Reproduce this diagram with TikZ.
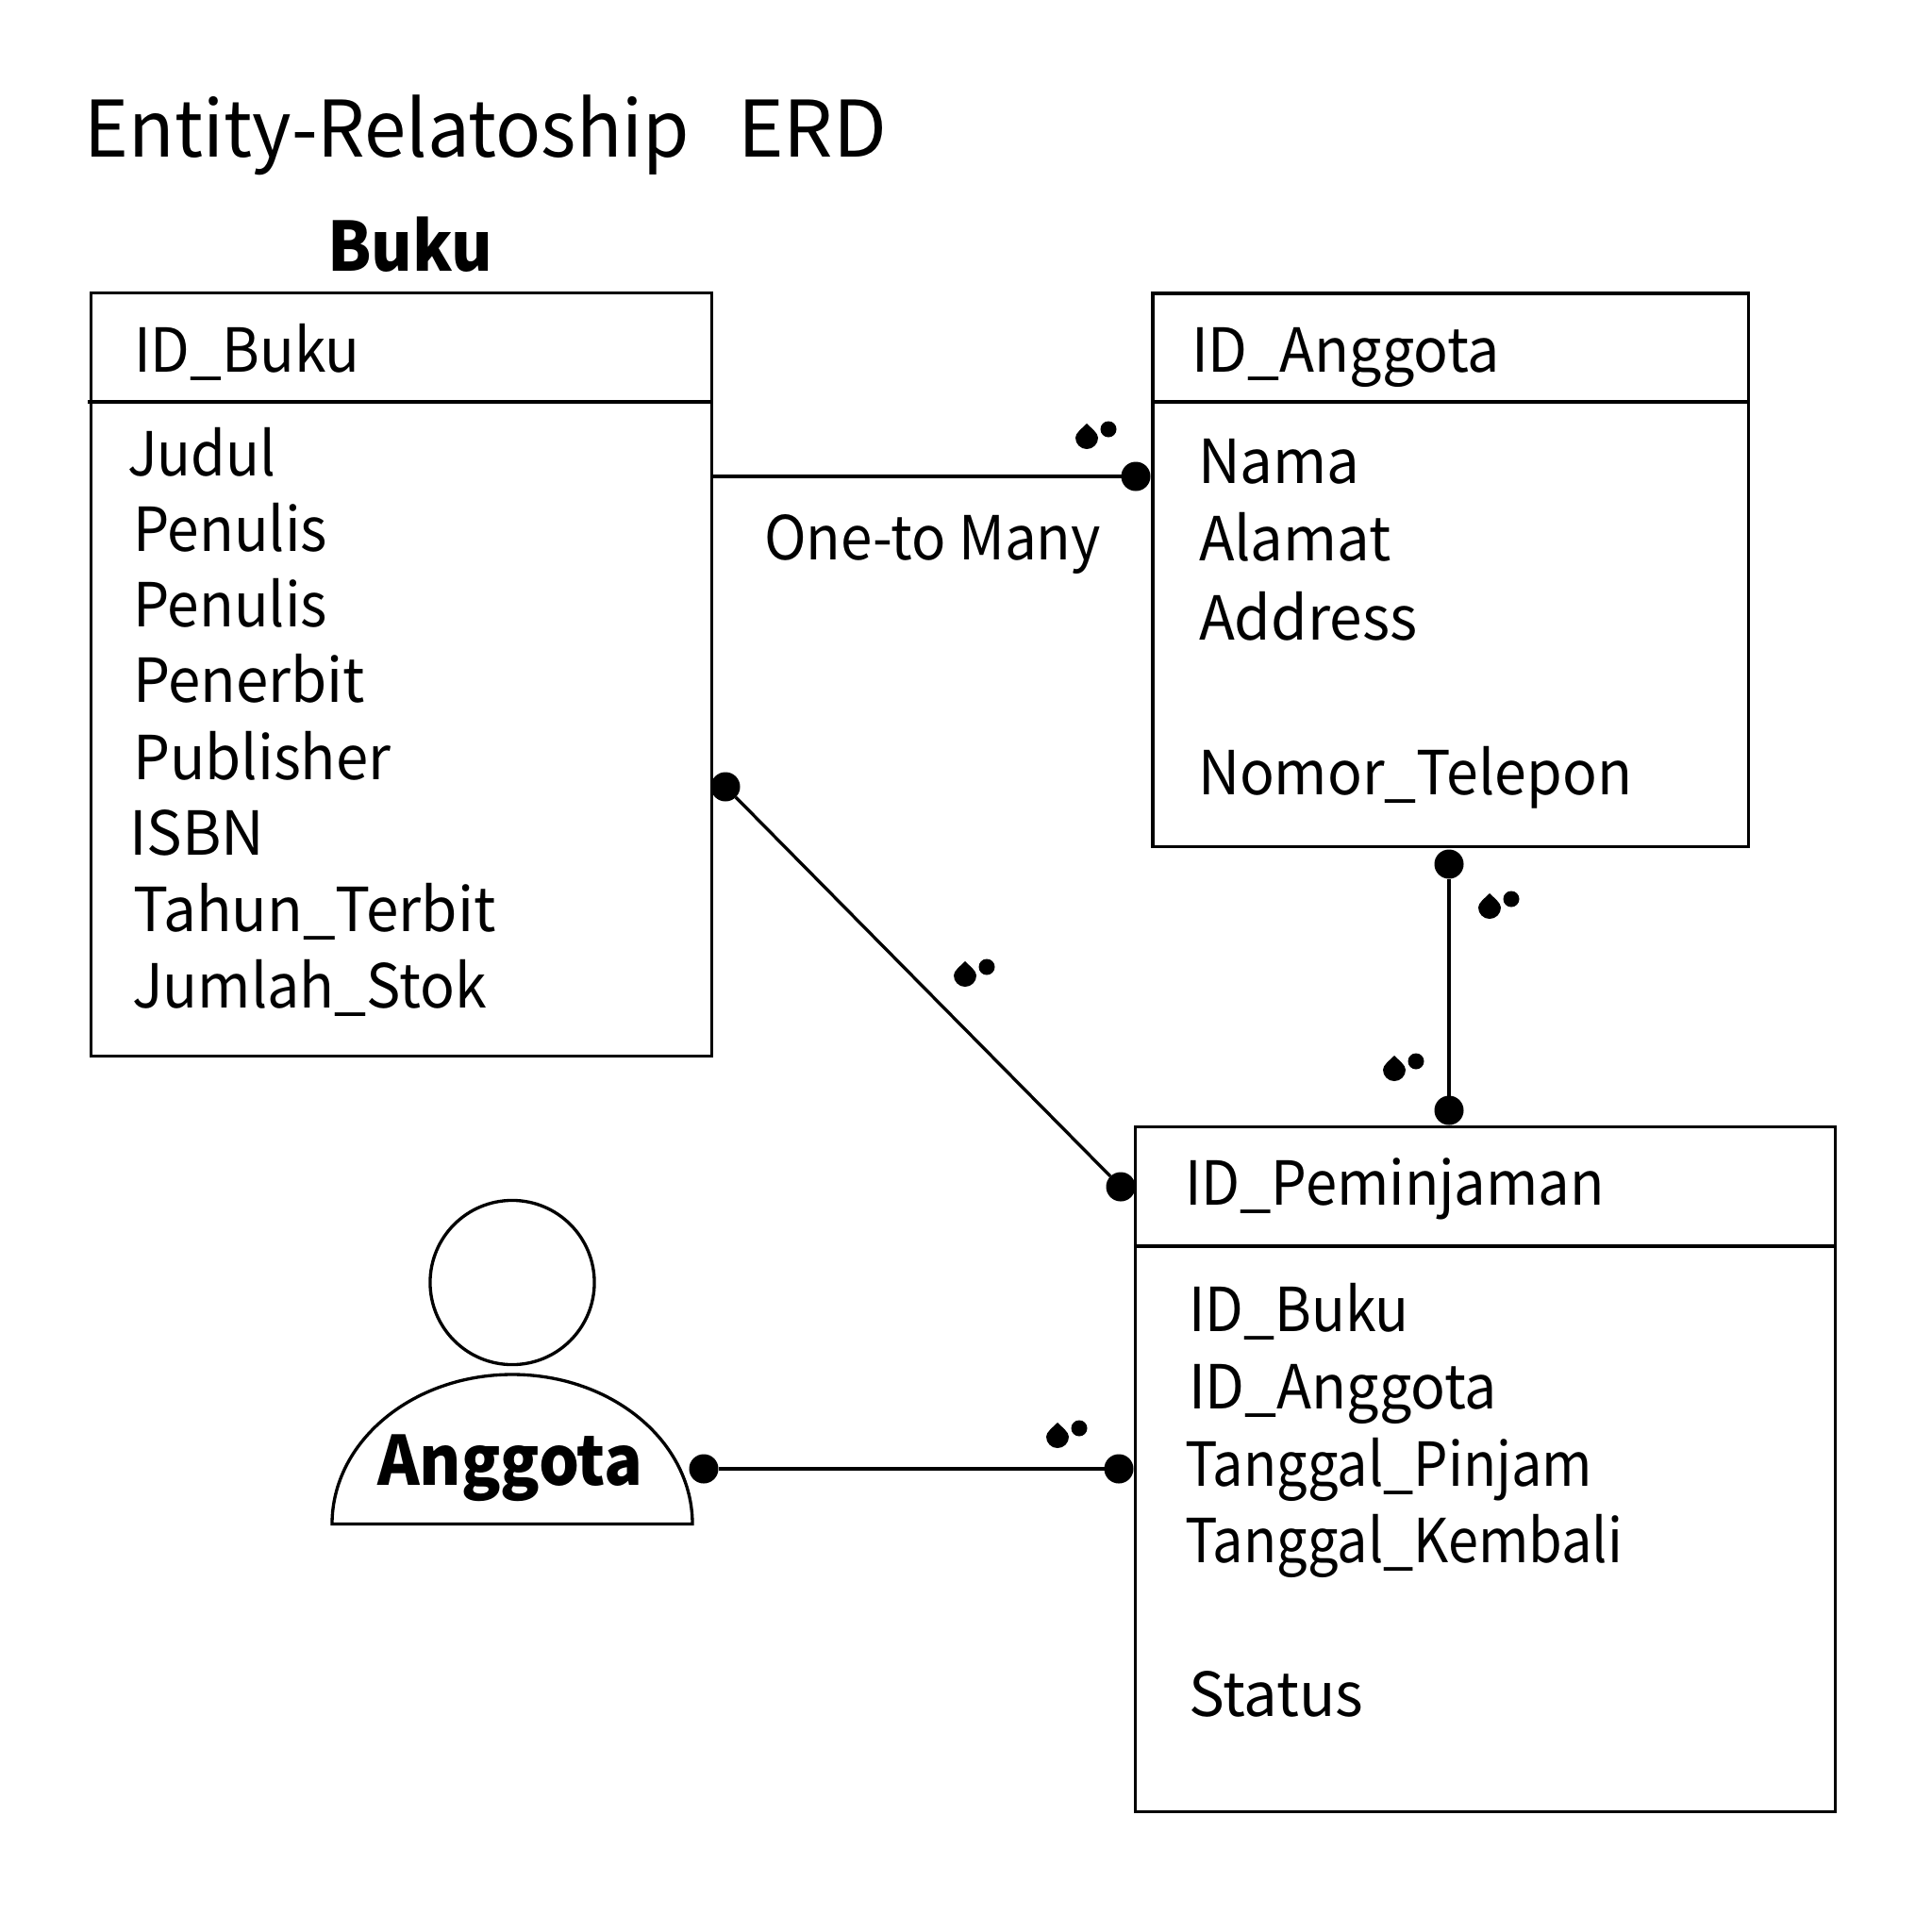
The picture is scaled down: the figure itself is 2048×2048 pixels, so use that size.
\documentclass[tikz,border=0pt]{standalone}
\usepackage{fontspec}
\usepackage{graphicx}
\setmainfont{Noto Sans CJK SC}
\newcommand{\wdfit}[2]{\scalebox{#1}[1]{#2}}
\tikzset{
  ink/.style={line width=0.95pt,draw=black},
  tablebox/.style={ink,rectangle,inner sep=0pt,outer sep=0pt},
  field/.style={anchor=base west,inner sep=0pt,outer sep=0pt,font=\fontsize{18.3}{20}\selectfont},
  titletext/.style={anchor=base west,inner sep=0pt,outer sep=0pt,font=\fontsize{23.5}{26}\selectfont},
  boldtext/.style={anchor=base west,inner sep=0pt,outer sep=0pt,font=\fontsize{20.5}{24}\selectfont\bfseries},
  enddot/.style={circle,fill=black,draw=none,minimum size=0.31cm,inner sep=0pt,outer sep=0pt},
  link/.style={ink},
  manymark/.pic={
    \fill[black] (0,-15) .. controls (5,-10) and (12,-5) .. (12,0) arc[start angle=0,end angle=180,radius=12] .. controls (-12,-5) and (-5,-10) .. (0,-15) -- cycle;
    \fill[black] (23,-9) circle[radius=8.5];
  }
}
\begin{document}
\begin{tikzpicture}[x=0.01cm,y=-0.01cm]
\useasboundingbox (0,0) rectangle (2048,2048);
% title
\node[titletext] (title) at (90,166) {\wdfit{0.964}{Entity-Relatoship}};
\node[titletext] (titleb) at (782,166) {ERD};
\node[boldtext] (bukutitle) at (347,287) {\wdfit{0.93}{Buku}};
% boxes
\node[tablebox,minimum width=6.57cm,minimum height=8.08cm] (buku) at (425.5,715) {};
\node[tablebox,minimum width=6.31cm,minimum height=5.86cm] (anggota) at (1537.5,604) {};
\node[tablebox,minimum width=7.42cm,minimum height=7.25cm] (pinjam) at (1574.5,1557.5) {};
\draw[ink] (93,426) -- (754,426);
\draw[ink] (1222,426) -- (1853,426);
\draw[ink] (1204,1321) -- (1945,1321);
% Buku fields
\node[field] (b0) at (142,394) {\wdfit{0.943}{ID\_Buku}};
\node[field] (b1) at (135,504) {\wdfit{0.92}{Judul}};
\node[field] (b2) at (141,584) {\wdfit{0.94}{Penulis}};
\node[field] (b3) at (141,664) {\wdfit{0.94}{Penulis}};
\node[field] (b4) at (141,744) {\wdfit{0.96}{Penerbit}};
\node[field] (b5) at (141,826) {\wdfit{0.958}{Publisher}};
\node[field] (b6) at (137,906) {\wdfit{0.98}{ISBN}};
\node[field] (b7) at (141,987) {\wdfit{0.964}{Tahun\_Terbit}};
\node[field] (b8) at (140,1068) {\wdfit{0.947}{Jumlah\_Stok}};
% Anggota fields
\node[field] (a0) at (1263,394) {\wdfit{0.946}{ID\_Anggota}};
\node[field] (a1) at (1270,512) {\wdfit{0.96}{Nama}};
\node[field] (a2) at (1271,594) {\wdfit{0.957}{Alamat}};
\node[field] (a3) at (1271,678) {\wdfit{0.967}{Address}};
\node[field] (a4) at (1270,842) {\wdfit{0.946}{Nomor\_Telepon}};
% Peminjaman fields
\node[field] (p0) at (1256,1277) {\wdfit{0.928}{ID\_Peminjaman}};
\node[field] (p1) at (1260,1411) {\wdfit{0.92}{ID\_Buku}};
\node[field] (p2) at (1260,1493) {\wdfit{0.946}{ID\_Anggota}};
\node[field] (p3) at (1256,1575) {\wdfit{0.896}{Tanggal\_Pinjam}};
\node[field] (p4) at (1256,1656) {\wdfit{0.896}{Tanggal\_Kembali}};
\node[field] (p5) at (1260,1819) {\wdfit{0.985}{Status}};
% relationship label
\node[field] (rel) at (810,593) {\wdfit{0.935}{One-to Many}};
% person
\node[circle,ink,minimum size=1.74cm,inner sep=0pt,outer sep=0pt] (head) at (543,1359.5) {};
\draw[ink,line join=miter] (352,1615.5) arc[start angle=180,end angle=0,x radius=191,y radius=-158.5] -- cycle;
\node[boldtext] (persontext) at (400,1574) {\wdfit{0.938}{Anggota}};
% end dots
\node[enddot] (d1) at (1204,505) {};
\node[enddot] (d2) at (769,834) {};
\node[enddot] (d3) at (1188,1258) {};
\node[enddot] (d4) at (1536,916) {};
\node[enddot] (d5) at (1536,1177) {};
\node[enddot] (d6) at (746,1557) {};
\node[enddot] (d7) at (1186,1557) {};
\coordinate (c1) at (buku.east |- d1);
% connectors
\draw[link] (c1) -- (d1);
\draw[link] (d2) -- (d3);
\draw[link] (d4) -- (d5);
\draw[link] (d6) -- (d7);
% cardinality marks
\pic at (1152,464) {manymark};
\pic at (1023,1034) {manymark};
\pic at (1579,962) {manymark};
\pic at (1478,1134) {manymark};
\pic at (1121,1523) {manymark};
\end{tikzpicture}
\end{document}
